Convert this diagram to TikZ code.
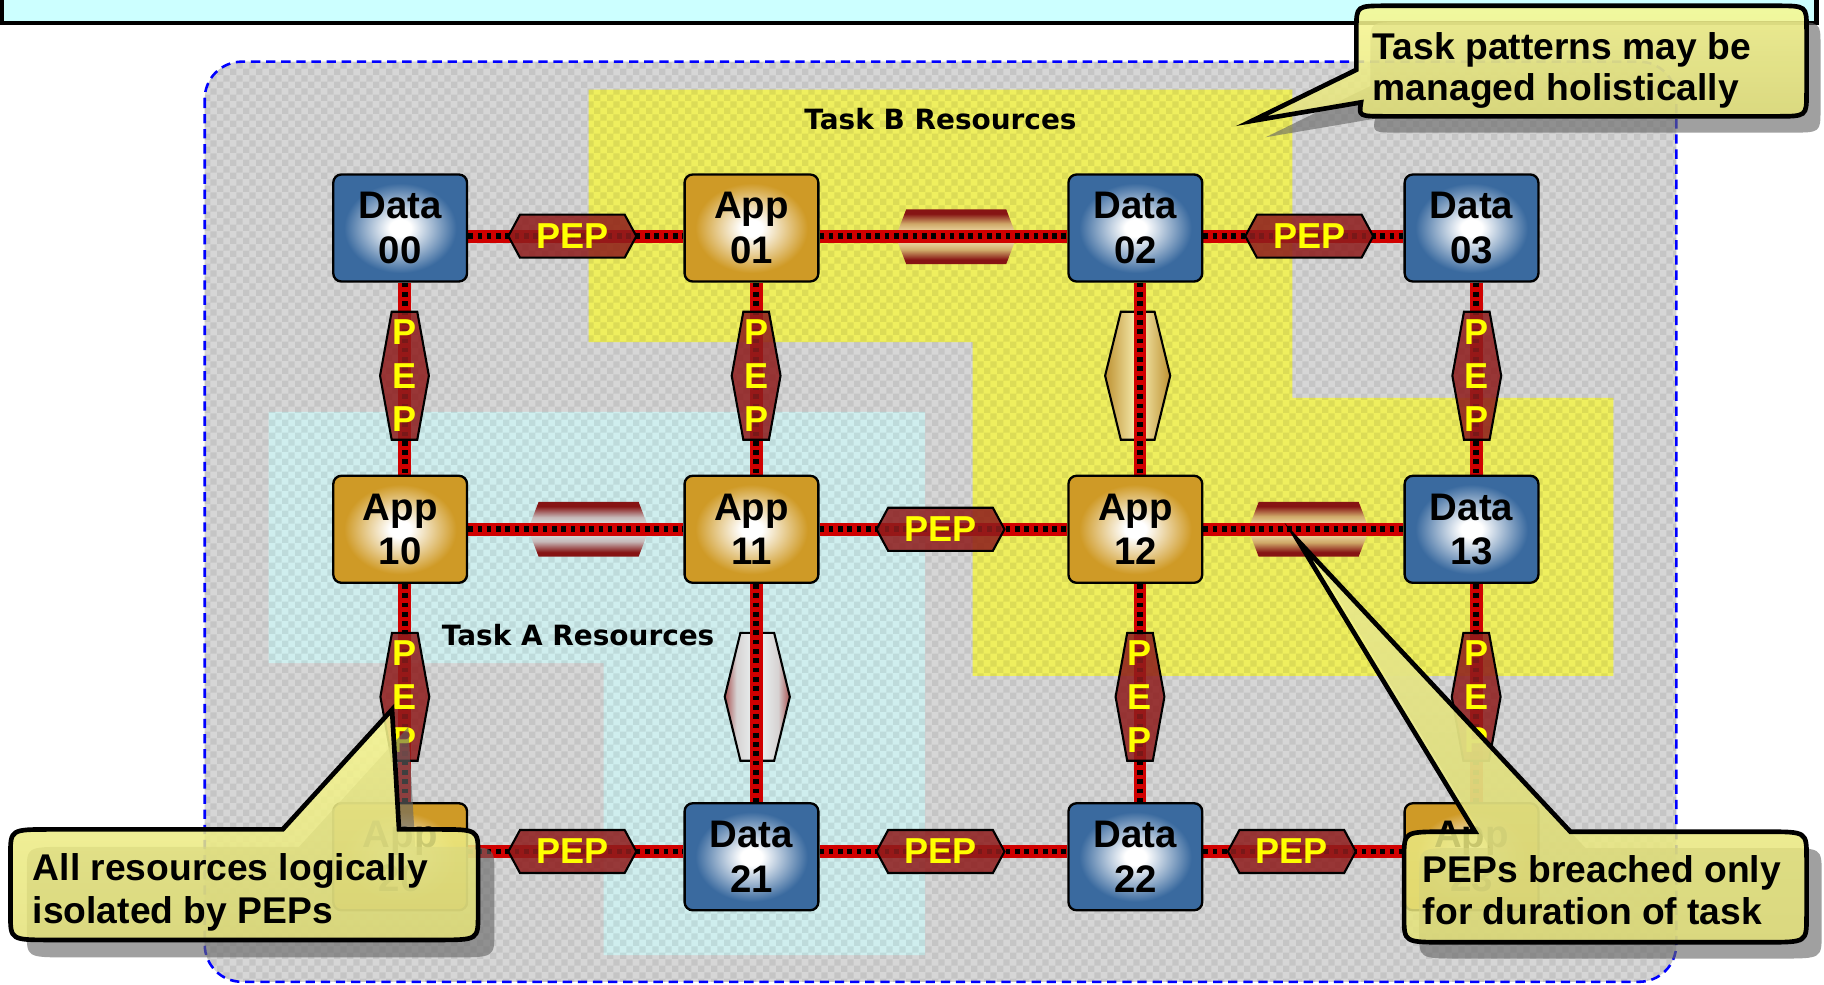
\documentclass[tikz,border=0pt]{standalone}
\usepackage{fontspec}
\setmainfont{Liberation Sans}
\newfontfamily\regionfont{DejaVu Sans}
\usetikzlibrary{patterns,calc}

% ---------- colours ----------
\definecolor{barcyan}{HTML}{CCFFFF}
\definecolor{zonegray}{HTML}{D6D6D6}
\definecolor{taskbyellow}{HTML}{EFEF5E}
\definecolor{taskacyan}{HTML}{CFEEEE}
\definecolor{linkred}{HTML}{D00000}
\definecolor{pepred}{HTML}{8E1C1C}
\definecolor{pepyellow}{HTML}{FFFF00}
\definecolor{appgold}{HTML}{CF9A26}
\definecolor{datablue}{HTML}{3A6A9F}
\definecolor{notefill}{HTML}{F8F890}
\definecolor{notefilllow}{HTML}{E4E27A}
\definecolor{brk}{HTML}{861414}
\definecolor{brtan}{HTML}{CFA868}
\definecolor{brcream}{HTML}{FFF4C8}
\definecolor{bricy}{HTML}{DCF0F0}
\definecolor{pillaredge}{HTML}{BE9232}
\definecolor{pillarmid}{HTML}{F8EFB4}
\definecolor{silveredge}{HTML}{A85050}
\definecolor{silverlow}{HTML}{D6D2D2}
\definecolor{silvermid}{HTML}{EEF6F6}

% ---------- shadings ----------
\pgfdeclareradialshading{appglow}{\pgfpoint{0bp}{0bp}}{color(0bp)=(white); color(4bp)=(white); color(21bp)=(appgold); color(50bp)=(appgold)}
\pgfdeclareradialshading{dataglow}{\pgfpoint{0bp}{0bp}}{color(0bp)=(white); color(4bp)=(white); color(21bp)=(datablue); color(50bp)=(datablue)}
\pgfdeclareverticalshading{breachgold}{100bp}{color(0bp)=(brk); color(25bp)=(brk); color(29bp)=(brk); color(38bp)=(brtan); color(50bp)=(brcream); color(62bp)=(brtan); color(71bp)=(brk); color(75bp)=(brk); color(100bp)=(brk)}
\pgfdeclareverticalshading{breachice}{100bp}{color(0bp)=(brk); color(25bp)=(brk); color(29bp)=(brk); color(39bp)=(bricy!75!brk); color(50bp)=(bricy); color(61bp)=(bricy!75!brk); color(71bp)=(brk); color(75bp)=(brk); color(100bp)=(brk)}
\pgfdeclarehorizontalshading{pillargold}{100bp}{color(0bp)=(pillaredge); color(25bp)=(pillaredge); color(50bp)=(pillarmid); color(75bp)=(pillaredge); color(100bp)=(pillaredge)}
\pgfdeclarehorizontalshading{pillarsilver}{100bp}{color(0bp)=(silveredge); color(25bp)=(silveredge); color(34bp)=(silverlow); color(50bp)=(silvermid); color(66bp)=(silverlow); color(75bp)=(silveredge); color(100bp)=(silveredge)}

% ---------- soft checker texture ----------
\pgfdeclarepatternformonly{softcheck}{\pgfqpoint{0pt}{0pt}}{\pgfqpoint{11pt}{11pt}}{\pgfqpoint{11pt}{11pt}}{%
  \pgfpathrectangle{\pgfqpoint{0pt}{0pt}}{\pgfqpoint{5.5pt}{5.5pt}}%
  \pgfpathrectangle{\pgfqpoint{5.5pt}{5.5pt}}{\pgfqpoint{5.5pt}{5.5pt}}%
  \pgfusepath{fill}}

\pgfdeclarelayer{back}
\pgfdeclarelayer{under}
\pgfdeclarelayer{wires}
\pgfsetlayers{back,under,wires,main}

\begin{document}
\begin{tikzpicture}[x=1pt,y=-1pt,
  box/.style={draw=black, line width=2pt, rounded corners=7pt, minimum width=115pt,
    minimum height=92pt, inner sep=0pt, align=center, shade,
    font=\bfseries\fontsize{33}{38}\selectfont},
  appbox/.style={box, shading=appglow},
  databox/.style={box, shading=dataglow},
  wire/.style={draw=black, line width=5pt, dash pattern=on 4pt off 4pt,
    preaction={draw=linkred, line width=11pt, solid}},
  pepshape/.style={fill=pepred, fill opacity=0.86, draw=black, line width=1.8pt},
  peptext/.style={text=pepyellow, inner sep=0pt, align=center,
    font=\bfseries\fontsize{31}{37.5}\selectfont},
  regionlabel/.style={anchor=base, inner sep=0pt, font=\regionfont\bfseries\fontsize{24}{28}\selectfont},
  notebody/.style={draw=black, line width=4pt, top color=notefill, bottom color=notefilllow, fill opacity=0.86},
  noteshadow/.style={fill=black!60, fill opacity=0.62, draw=none},
  notetext/.style={anchor=base west, inner sep=0pt, font=\bfseries\fontsize{32}{36}\selectfont},
  hpep/.pic={
    \path[pepshape] (-55,0) -- (-45,-18.5) -- (45,-18.5) -- (55,0) -- (45,18.5) -- (-45,18.5) -- cycle;
    \node[peptext] (-t) at (0,0) {PEP};
  },
  vpep/.pic={
    \path[pepshape] (-11,-55) -- (11,-55) -- (21,0) -- (11,55) -- (-11,55) -- (-21,0) -- cycle;
    \node[peptext] (-t) at (0,0) {P\\E\\P};
  },
  hbreach/.pic={
    \shade[shading=#1] (-52,0) -- (-43,-23.5) -- (43,-23.5) -- (52,0) -- (43,23.5) -- (-43,23.5) -- cycle;
  },
  vbreach/.pic={
    \shadedraw[shading=#1, draw=black, line width=1.8pt] (-14.5,-55) -- (14.5,-55) -- (28,0) -- (14.5,55) -- (-14.5,55) -- (-28,0) -- cycle;
  },
  noteTR/.pic={
    \path[#1] (1166,60) -- (1076,104) -- (1170,88) .. controls (1168,100) .. (1192,100)
      -- (1527,100) .. controls (1553,100) .. (1553,80) -- (1553,25)
      .. controls (1553,5) .. (1527,5) -- (1192,5) .. controls (1166,5) .. (1166,25) -- cycle;
  },
  noteBL/.pic={
    \path[#1] (243,713) -- (337,610) -- (343,713) -- (376,713) .. controls (411,713) .. (411,735)
      -- (411,786) .. controls (411,808) .. (376,808) -- (44,808) .. controls (9,808) .. (9,786)
      -- (9,735) .. controls (9,713) .. (44,713) -- cycle;
  },
  noteBR/.pic={
    \path[#1] (1268,715) -- (1116,465) -- (1350,715) -- (1518,715) .. controls (1553,715) .. (1553,737)
      -- (1553,788) .. controls (1553,810) .. (1518,810) -- (1242,810) .. controls (1207,810) .. (1207,788)
      -- (1207,737) .. controls (1207,715) .. (1242,715) -- cycle;
  }
]
\useasboundingbox (0,0) rectangle (1568,846);

\begin{pgfonlayer}{back}
  \fill[white] (0,0) rectangle (1568,846);
  % title bar
  \draw[line width=3.5pt, fill=barcyan] (1.75,-20) rectangle (1561.5,19.5);
  % shared resource zone
  \fill[zonegray, rounded corners=32pt] (176,53) rectangle (1441,844);
  % Task B zone
  \fill[taskbyellow] (506,77) -- (1111,77) -- (1111,342) -- (1387,342) -- (1387,581)
    -- (836,581) -- (836,294) -- (506,294) -- cycle;
  % Task A zone
  \fill[taskacyan] (231,354) -- (795,354) -- (795,821) -- (519,821) -- (519,570) -- (231,570) -- cycle;
  % texture over the zones
  \fill[pattern=softcheck, pattern color=black, fill opacity=0.08, rounded corners=32pt] (176,53) rectangle (1441,844);
  \draw[blue, line width=2.2pt, dash pattern=on 8pt off 5pt, rounded corners=32pt] (176,53) rectangle (1441,844);
  \node[regionlabel] (labelB) at (808.5,111) {Task B Resources};
  \node[regionlabel] (labelA) at (497,554.5) {Task A Resources};
\end{pgfonlayer}

% ---------- resources ----------
\node[databox] (d00) at (344,196) {Data\\00};
\node[appbox]  (a01) at (646,196) {App\\01};
\node[databox] (d02) at (976,196) {Data\\02};
\node[databox] (d03) at (1265,196) {Data\\03};
\node[appbox]  (a10) at (344,455) {App\\10};
\node[appbox]  (a11) at (646,455) {App\\11};
\node[appbox]  (a12) at (976,455) {App\\12};
\node[databox] (d13) at (1265,455) {Data\\13};
\node[appbox]  (a20) at (344,736.5) {App\\20};
\node[databox] (d21) at (646,736.5) {Data\\21};
\node[databox] (d22) at (976,736.5) {Data\\22};
\node[appbox]  (a23) at (1265,736.5) {App\\23};

% ---------- breached enforcement points (under the links) ----------
\begin{pgfonlayer}{under}
  \pic (b0102) at (822,203.5) {hbreach=breachgold};
  \pic (b1011) at (506,455) {hbreach=breachice};
  \pic (b1213) at (1125,455) {hbreach=breachgold};
  \pic (b0212) at (978,323) {vbreach=pillargold};
  \pic (b1121) at (651,599) {vbreach=pillarsilver};
\end{pgfonlayer}

% ---------- links ----------
\begin{pgfonlayer}{wires}
  \draw[wire] ([yshift=-7pt]d00.east) -- ([yshift=-7pt]a01.west);
  \draw[wire] ([yshift=-7pt]a01.east) -- ([yshift=-7pt]d02.west);
  \draw[wire] ([yshift=-7pt]d02.east) -- ([yshift=-7pt]d03.west);
  \draw[wire] (a10.east) -- (a11.west);
  \draw[wire] (a11.east) -- (a12.west);
  \draw[wire] (a12.east) -- (d13.west);
  \draw[wire] ([yshift=4.5pt]a20.east) -- ([yshift=4.5pt]d21.west);
  \draw[wire] ([yshift=4.5pt]d21.east) -- ([yshift=4.5pt]d22.west);
  \draw[wire] ([yshift=4.5pt]d22.east) -- ([yshift=4.5pt]a23.west);
  \draw[wire] ([xshift=4pt]d00.south) -- ([xshift=4pt]a10.north);
  \draw[wire] ([xshift=4pt]a10.south) -- ([xshift=4pt]a20.north);
  \draw[wire] ([xshift=4pt]a01.south) -- ([xshift=4pt]a11.north);
  \draw[wire] ([xshift=4pt]a11.south) -- ([xshift=4pt]d21.north);
  \draw[wire] ([xshift=4pt]d02.south) -- ([xshift=4pt]a12.north);
  \draw[wire] ([xshift=4pt]a12.south) -- ([xshift=4pt]d22.north);
  \draw[wire] ([xshift=4pt]d03.south) -- ([xshift=4pt]d13.north);
  \draw[wire] ([xshift=4pt]d13.south) -- ([xshift=4pt]a23.north);
\end{pgfonlayer}

% ---------- policy enforcement points ----------
\pic (p0001) at (492,203) {hpep};
\pic (p0203) at (1125.5,203) {hpep};
\pic (p1112) at (808.5,455) {hpep};
\pic (p2021) at (492,732) {hpep};
\pic (p2122) at (808.5,732) {hpep};
\pic (p2223) at (1110.5,732) {hpep};
\pic (p0010) at (347.7,323) {vpep};
\pic (p0111) at (650,323) {vpep};
\pic (p0313) at (1269.5,323) {vpep};
\pic (p1020) at (348,599) {vpep};
\pic (p1222) at (980,599) {vpep};
\pic (p1323) at (1269,599) {vpep};

% ---------- callouts ----------
\pic[shift={(12,14)}] {noteTR=noteshadow};
\pic {noteTR=notebody};
\node[notetext] (tr1) at (1180,51) {Task patterns may be};
\node[notetext] (tr2) at (1180,86) {managed holistically};

\pic[shift={(14,15)}] {noteBL=noteshadow};
\pic {noteBL=notebody};
\node[notetext] (bl1) at (28,757) {All resources logically};
\node[notetext] (bl2) at (28,794) {isolated by PEPs};

\pic[shift={(13,14)}] {noteBR=noteshadow};
\pic {noteBR=notebody};
\node[notetext] (br1) at (1223,759) {PEPs breached only};
\node[notetext] (br2) at (1223,795) {for duration of task};
\end{tikzpicture}
\end{document}
